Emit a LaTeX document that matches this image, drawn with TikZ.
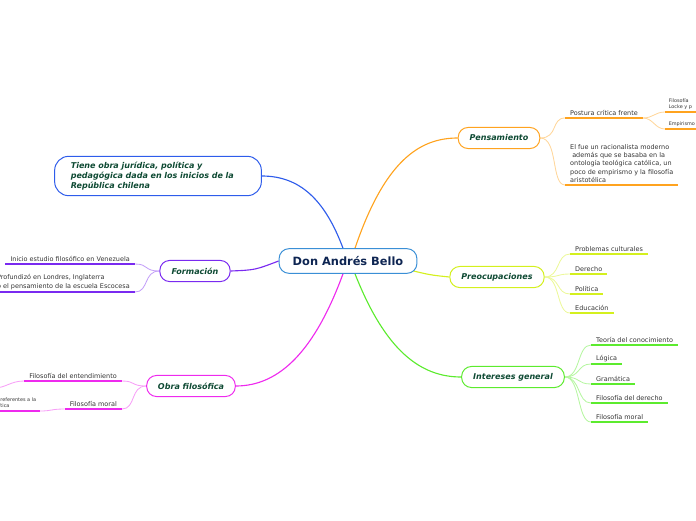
\documentclass[tikz,border=0pt]{standalone}
\usepackage{fontspec}
\setmainfont{DejaVu Sans}
\usetikzlibrary{calc, backgrounds}

\definecolor{cRoot}{HTML}{3A8FD6}
\definecolor{cOrange}{HTML}{FFA31F}
\definecolor{cLime}{HTML}{D4F01E}
\definecolor{cGreen}{HTML}{5CEB2E}
\definecolor{cPurple}{HTML}{7A2AF0}
\definecolor{cMagenta}{HTML}{EE2AEE}
\definecolor{cBlue}{HTML}{2E5CEB}
\definecolor{txtTopic}{HTML}{0E4A33}
\definecolor{txtRoot}{HTML}{0E2552}
\definecolor{txtLeaf}{HTML}{333333}

\tikzset{
    root/.style={draw=cRoot, line width=0.7pt, fill=white, rounded corners=7pt,
        minimum width=98pt, minimum height=17.5pt, text=txtRoot,
        font=\fontsize{8.1}{9}\selectfont\bfseries},
    topic/.style={draw=#1, line width=0.7pt, fill=white, rounded corners=7pt,
        minimum height=15pt, text=txtTopic,
        font=\fontsize{5.7}{7}\selectfont\bfseries\itshape},
    leaf/.style={anchor=south west, inner xsep=3.5pt, inner ysep=1.6pt, align=left,
        text=txtLeaf, font=\fontsize{4.6}{5.9}\selectfont},
    leafL/.style={leaf, anchor=south east},
    tinyleaf/.style={leaf, inner xsep=2.5pt, font=\fontsize{3.5}{4.4}\selectfont},
    uline/.style={draw=#1, line width=1.3pt},
    branch/.style={draw=#1, line width=0.8pt},
    twig/.style={draw=#1!45, line width=0.6pt},
}

\begin{document}
\begin{tikzpicture}[x=0.025cm, y=-0.025cm]
    \useasboundingbox (0,0) rectangle (696,520);
    \clip (0,0) rectangle (696,520);

    % Central and main topics
    \node[root] (bello) at (348,261) {Don Andrés Bello};
    \node[topic=cOrange, minimum width=58pt] (pens) at (499,138) {Pensamiento};
    \node[topic=cLime, minimum width=67pt] (preo) at (497,277) {Preocupaciones};
    \node[topic=cGreen, minimum width=73pt] (inte) at (513,377) {Intereses general};
    \node[topic=cPurple, minimum width=50pt] (form) at (195,271) {Formación};
    \node[topic=cMagenta, minimum width=63pt] (obra) at (191,386) {Obra filosófica};
    \node[topic=cBlue, minimum height=28pt, rounded corners=10pt, align=left,
        text width=124pt, inner xsep=11.5pt] (tiene) at (158,176)
        {Tiene obra jurídica, política y\\pedagógica dada en los inicios de la\\República chilena};

    % Pensamiento
    \node[leaf] (postura) at (565,118) {Postura crítica frente};
    \node[leaf] (fue) at (565,185) {El fue un racionalista moderno\\\ además que se basaba en la\\ontología teológica católica, un\\poco de empirismo y la filosofía\\aristotélica};
    \node[tinyleaf] (locke) at (665,112) {Filosofía\\Locke y p};
    \node[tinyleaf] (empi) at (665,129) {Empirismo};

    % Preocupaciones
    \node[leaf] (cult) at (570,254) {Problemas culturales};
    \node[leaf] (dere) at (570,274) {Derecho};
    \node[leaf] (poli) at (570,294) {Política};
    \node[leaf] (educ) at (570,313) {Educación};

    % Intereses general
    \node[leaf] (teor) at (591,345) {Teoría del conocimiento};
    \node[leaf] (logi) at (591,364) {Lógica};
    \node[leaf] (gram) at (591,384) {Gramática};
    \node[leaf] (fder) at (591,403) {Filosofía del derecho};
    \node[leaf] (fmor) at (591,422) {Filosofía moral};

    % Formacion
    \node[leafL] (vene) at (135,264) {Inicio estudio filosófico en Venezuela};
    \node[leafL] (lond) at (135,292) {Profundizó en Londres, Inglaterra\\o el pensamiento de la escuela Escocesa};

    % Obra filosofica
    \node[leafL] (ente) at (122,381) {Filosofía del entendimiento};
    \node[leafL] (omor) at (122,409) {Filosofía moral};
    \node[tinyleaf, anchor=south east] (refe) at (40,411) {Ideas referentes a la\\la política};
    \coordinate (enteout) at (-6,388);

    % Underlines
    \foreach \n in {postura,fue,locke,empi} \draw[uline=cOrange] (\n.south west) -- (\n.south east);
    \foreach \n in {cult,dere,poli,educ} \draw[uline=cLime] (\n.south west) -- (\n.south east);
    \foreach \n in {teor,logi,gram,fder,fmor} \draw[uline=cGreen] (\n.south west) -- (\n.south east);
    \foreach \n in {vene,lond} \draw[uline=cPurple] (\n.south west) -- (\n.south east);
    \foreach \n in {ente,omor,refe} \draw[uline=cMagenta] (\n.south west) -- (\n.south east);

    \begin{scope}[on background layer]
        % Main branches
        \draw[branch=cOrange] ($(bello.north)+(7,0)$) .. controls (385,160) and (420,138) .. (pens.west);
        \draw[branch=cLime] ($(bello.east)+(-12,8)$) .. controls (430,275) .. (preo.west);
        \draw[branch=cGreen] ($(bello.south)+(7,0)$) .. controls (385,350) and (420,377) .. (inte.west);
        \draw[branch=cPurple] (bello.west) .. controls (255,270) .. (form.east);
        \draw[branch=cMagenta] ($(bello.south)+(-5,0)$) .. controls (315,350) and (280,386) .. (obra.east);
        \draw[branch=cBlue] ($(bello.north)+(-5,0)$) .. controls (325,200) and (300,176) .. (tiene.east);

        % Sub branches
        \foreach \n in {postura,fue}
            \draw[twig=cOrange] (pens.east) .. controls +(18,0) and +(-14,0) .. (\n.south west);
        \foreach \n in {locke,empi}
            \draw[twig=cOrange] (postura.south east) .. controls +(10,0) and +(-10,0) .. (\n.south west);
        \foreach \n in {cult,dere,poli,educ}
            \draw[twig=cLime] (preo.east) .. controls +(16,0) and +(-14,0) .. (\n.south west);
        \foreach \n in {teor,logi,gram,fder,fmor}
            \draw[twig=cGreen] (inte.east) .. controls +(16,0) and +(-14,0) .. (\n.south west);
        \foreach \n in {vene,lond}
            \draw[twig=cPurple] (form.west) .. controls +(-16,0) and +(14,0) .. (\n.south east);
        \foreach \n in {ente,omor}
            \draw[twig=cMagenta] (obra.west) .. controls +(-16,0) and +(14,0) .. (\n.south east);
        \draw[twig=cMagenta] (ente.south west) .. controls +(-14,0) and +(12,0) .. (enteout);
        \draw[twig=cMagenta] (omor.south west) .. controls +(-14,0) and +(12,0) .. (refe.south east);
    \end{scope}
\end{tikzpicture}
\end{document}
